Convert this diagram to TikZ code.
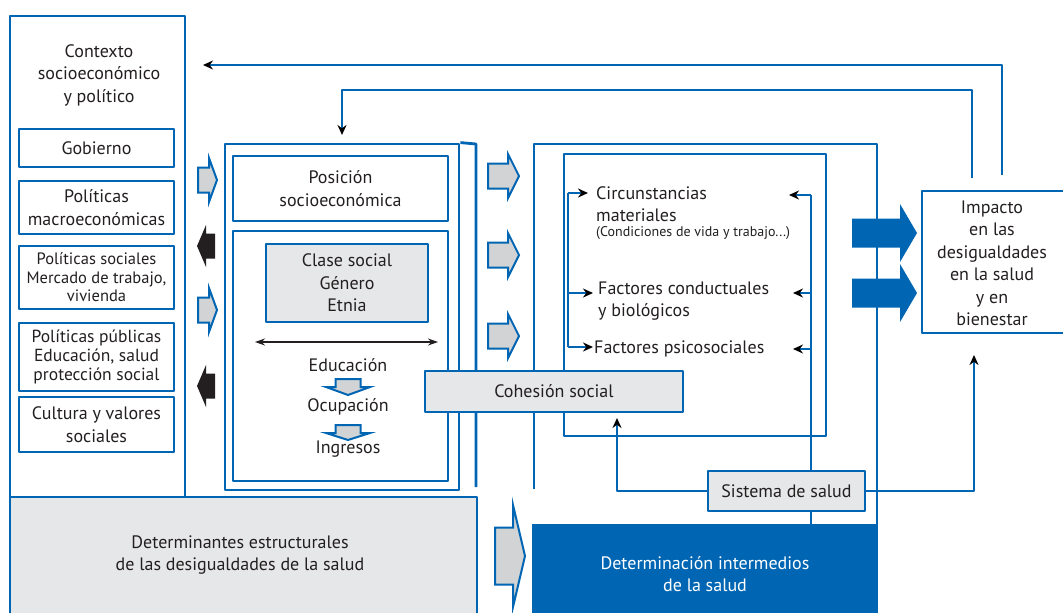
\documentclass[tikz,border=0pt]{standalone}
\usepackage{fontspec}
\setmainfont{PT Sans}
\usetikzlibrary{arrows.meta}
\definecolor{azul}{RGB}{0,102,179}
\definecolor{grisc}{RGB}{230,231,232}
\definecolor{grisf}{RGB}{209,211,212}
\definecolor{tinta}{RGB}{35,31,32}
\tikzset{
	caja/.style={draw=azul, line width=2.8pt, inner sep=0pt},
	texto/.style={text=tinta, align=center, inner sep=0pt, font=\fontsize{18}{22.5}\selectfont},
	linea/.style={draw=azul, line width=2.8pt},
	punta/.style={linea, -{Stealth[length=10pt,width=9pt,color=black]}},
	gris/.style={draw=azul, fill=grisf, line width=2pt, line join=miter},
	negra/.style={fill=tinta},
	azulf/.style={fill=azul},
	pics/flecha/.style args={#1/#2/#3/#4/#5}{code={
		\path[#5] (0,-#2)--(#1,-#2)--(#1,-#3)--(#4,0)--(#1,#3)--(#1,#2)--(0,#2)--cycle;}}
}
\begin{document}
\begin{tikzpicture}[x=1pt, y=-1pt, line join=round, >=Stealth]
		\useasboundingbox (0,0) rectangle (1063,613);
		\clip (0,0) rectangle (1063,613);
		\path
		(568,193) coordinate (ia)
		(568,293) coordinate (ib)
		(568,347) coordinate (ic)
		(811,195) coordinate (da)
		(811,293) coordinate (db)
		(811,349) coordinate (dc)
		(789,195) coordinate (ta)
		(793,293) coordinate (tb)
		(793,349) coordinate (tc)
		(255,342) coordinate (ejei)
		(438,342) coordinate (ejed)
		(476,144) coordinate (me1)
		(476,487) coordinate (me2)
		(534,489) coordinate (mi1)
		(877,144) coordinate (mi2)
		(877,524) coordinate (mi3)
		(617,418) coordinate (cs)
		(974,355) coordinate (ci)
		(1002,175) coordinate (r1)
		(203,65) coordinate (f1)
		(972,178) coordinate (r2)
		(342,90) coordinate (k2)
		(342,135) coordinate (f2)
		;
		\node[caja, minimum width=175, minimum height=481] (contexto) at (97.5,256.5) {};
		\node[texto] (contextotit) at (99,75) {Contexto\\socioeconómico\\y político};
		\node[caja, texto, minimum width=155, minimum height=38] (gobierno) at (96.5,148) {Gobierno};
		\node[caja, texto, minimum width=155, minimum height=53] (macro) at (96.5,207.5) {Políticas\\macroeconómicas};
		\node[caja, texto, font=\fontsize{16.5}{18.5}\selectfont, minimum width=155, minimum height=63] (sociales) at (96.5,277.5) {Políticas sociales\\Mercado de trabajo,\\vivienda};
		\node[caja, texto, font=\fontsize{17.5}{19}\selectfont, minimum width=155, minimum height=68] (publicas) at (96.5,357) {Políticas públicas\\Educación, salud\\protección social};
		\node[caja, texto, minimum width=155, minimum height=55] (cultura) at (96.5,424.5) {Cultura y valores\\sociales};
		\node[caja, fill=grisc, minimum width=467, minimum height=130] (estructural) at (243.5,562) {};
		\node[texto] (estructuraltxt) at (240,555) {Determinantes estructurales\\de las desigualdades de la salud};
		\pic at (198,180) {flecha=11/12.5/22/19/gris};
		\pic at (198,310) {flecha=11/12.5/22/19/gris};
		\pic[rotate=180] at (215,246) {flecha=9/12.5/21/18/negra};
		\pic[rotate=180] at (215,386) {flecha=9/12.5/21/18/negra};
		\node[caja, minimum width=234, minimum height=346] (marcoest) at (342,317) {};
		\draw[linea] (marcoest.north east) -- (me1) -- (me2);
		\node[caja, texto, minimum width=215, minimum height=65] (posicion) at (340.5,188.5) {Posición\\socioeconómica};
		\node[caja, minimum width=215, minimum height=250] (estratif) at (340.5,356) {};
		\node[caja, texto, fill=grisc, minimum width=162, minimum height=78] (clase) at (347,283) {Clase social\\Género\\Etnia};
		\draw[tinta, line width=1.6pt, {Stealth[length=10pt,width=7pt]}-{Stealth[length=10pt,width=7pt]}] (ejei) -- (ejed);
		\node[texto] (educacion) at (348,365) {Educación};
		\node[texto] (ocupacion) at (348,407) {Ocupación};
		\node[texto] (ingresos) at (348,449) {Ingresos};
		\pic[rotate=-90] at (348,379) {flecha=8/12.5/22/16/gris};
		\pic[rotate=-90] at (348,425) {flecha=8/12.5/22/15/gris};
		\foreach \y in {176,255,336}
		\pic at (488,\y) {flecha=20/12.5/22/31/gris};
		\pic at (495,556) {flecha=18/28.5/51/30/gris};
		\draw[linea] (mi1) |- (mi2) -- (mi3);
		\node[caja, minimum width=262, minimum height=282] (intermedios) at (695,295) {};
		\node[fill=azul, text=white, align=center, inner sep=0pt, font=\fontsize{18}{22.5}\selectfont, minimum width=346, minimum height=100] (determinacion) at (705,574) {Determinación intermedios\\de la salud};
		\node[texto, anchor=west, align=left] (circ) at (596,204) {Circunstancias\\materiales};
		\node[texto, anchor=west, font=\fontsize{14}{16}\selectfont] (condic) at (596,233) {(Condiciones de vida y trabajo...)};
		\node[texto, anchor=west, align=left] (conduct) at (598,301) {Factores conductuales\\y biológicos};
		\node[texto, anchor=west] (psico) at (594,349) {Factores psicosociales};
		\draw[linea] (ia) -- (ic);
		\draw[punta, shorten >=8pt] (ia) -- (ia -| circ.west);
		\draw[punta, shorten >=5pt] (ib) -- (ib -| conduct.west);
		\draw[punta, shorten >=1pt] (ic) -- (ic -| psico.west);
		\draw[linea] (da) -- (da |- determinacion.north);
		\foreach \d/\t in {da/ta,db/tb,dc/tc}
		\draw[punta] (\d) -- (\t);
		\node[caja, texto, fill=grisc, minimum width=258, minimum height=41] (cohesion) at (554,391.5) {Cohesión social};
		\node[caja, texto, fill=grisc, minimum width=157, minimum height=40] (sistema) at (786.5,491) {Sistema de salud};
		\draw[punta] (sistema.west) -| (cs);
		\draw[punta] (sistema.east) -| (ci);
		\node[caja, minimum width=153, minimum height=142] (impacto) at (998.5,262) {};
		\node[texto] (impactotxt) at (992,263.5) {Impacto\\en las\\desigualdades\\en la salud\\y en\\bienestar};
		\foreach \y in {233,293}
		\pic at (852,\y) {flecha=48/14.5/29/65/azulf};
		\draw[punta] (r1) |- (f1);
		\draw[punta] (r2) |- (k2) -- (f2);
\end{tikzpicture}
\end{document}
